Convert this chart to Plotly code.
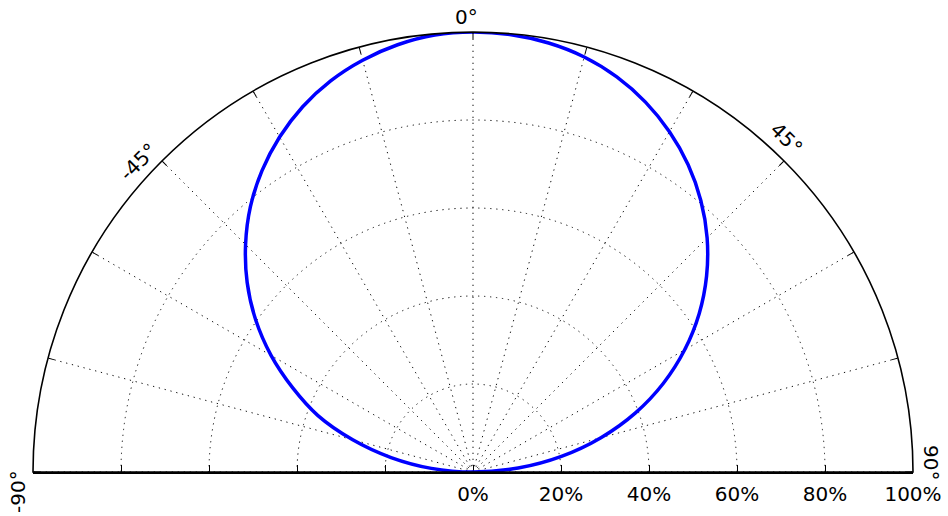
import plotly.graph_objects as go

# pattern: angle in degrees (0 = up, clockwise positive), radius in %
theta = list(range(-90, 95, 5))
r_pct = [0, 9.5, 18.9, 28.3, 37.5, 45.2, 53.0, 60.3, 67.0, 73.1, 78.7, 83.6, 87.9, 91.6, 94.6, 96.9, 98.6, 99.7,
         100,
         99.75, 99.0, 97.65, 95.55, 92.75, 89.3, 85.25, 80.55, 75.25, 69.3, 62.75, 55.55, 47.75, 39.3, 30.1, 20.4,
         10.3, 0]

angle_ticks = list(range(-90, 91, 15))
angle_labels = ["-90°", "-45°", "0°", "45°", "90°"]
radial_ticks = [0, 20, 40, 60, 80, 100]
radial_labels = ["0%", "20%", "40%", "60%", "80%", "100%"]

W, H = 948, 516
L, T, PW, PH = 33, 32, 880, 440

# where matplotlib put the rotated angle labels (pixel centres) and their rotation
label_pos = {"-90°": (18, 492, -90), "-45°": (138, 162, -45), "0°": (466, 17, 0),
             "45°": (786, 138, 45), "90°": (931, 462, 90)}


def to_paper(px, py):
    return (px - L) / PW, (T + PH - py) / PH


fig = go.Figure()
fig.add_trace(go.Scatterpolar(
    theta=theta, r=r_pct, mode="lines",
    line=dict(color="#0000ff", width=3.5, shape="spline", smoothing=1.0),
    hoverinfo="skip", showlegend=False))
# empty trace so the cartesian axis (bottom line + ticks) gets drawn
fig.add_trace(go.Scatter(x=[None], y=[None], showlegend=False, hoverinfo="skip"))

for txt in angle_labels:
    px, py, ang = label_pos[txt]
    xp, yp = to_paper(px, py)
    fig.add_annotation(x=xp, y=yp, xref="paper", yref="paper", text=txt, showarrow=False,
                       textangle=ang, xanchor="center", yanchor="middle",
                       font=dict(family="DejaVu Sans", size=20, color="black"))

dot_grid = "#111111"
dots = "1.3px,4.7px"
fig.update_layout(
    width=W, height=H,
    margin=dict(l=L, r=W - L - PW, t=T, b=H - T - PH, pad=0),
    paper_bgcolor="white", plot_bgcolor="rgba(0,0,0,0)",
    font=dict(family="DejaVu Sans", size=20, color="black"),
    showlegend=False,
    polar=dict(
        domain=dict(x=[0, 1], y=[0, 1]),
        sector=[0, 180],
        bgcolor="rgba(0,0,0,0)",
        angularaxis=dict(
            rotation=90, direction="clockwise",
            tickmode="array", tickvals=angle_ticks,
            ticks="inside", ticklen=6, tickwidth=1, tickcolor="black",
            showticklabels=False,
            showline=True, linecolor="black", linewidth=1.6,
            showgrid=True, gridcolor=dot_grid, griddash=dots, gridwidth=1),
        radialaxis=dict(
            range=[0, 100], angle=0,
            tickmode="array", tickvals=radial_ticks, ticktext=radial_labels,
            tickfont=dict(family="DejaVu Sans", size=20, color="black"),
            showline=False, ticks="outside", ticklen=4, tickcolor="rgba(0,0,0,0)",
            showgrid=True, gridcolor=dot_grid, griddash=dots, gridwidth=1)),
    xaxis=dict(domain=[0, 1], range=[-100, 100], showline=True, linecolor="black", linewidth=1.6,
               ticks="inside", ticklen=7, tickwidth=1.2, tickcolor="black",
               tickvals=[-v for v in radial_ticks[:0:-1]] + radial_ticks,
               showticklabels=False, showgrid=False, zeroline=False, fixedrange=True),
    yaxis=dict(domain=[0, 1], range=[0, 1], visible=False, fixedrange=True),
)

# the page body has an 8px margin by default; drop it so the figure fills the window
fig.write_html("out.html", config={"displayModeBar": False},
               post_script="document.body.style.margin='0';")
